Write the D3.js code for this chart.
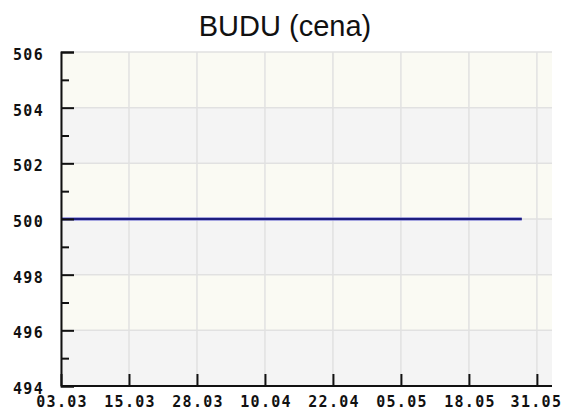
<!DOCTYPE html>
<html>
<head>
<meta charset="utf-8">
<script src="https://cdn.jsdelivr.net/npm/d3@7"></script>
<style>
  html, body { margin: 0; padding: 0; background: #fff; }
  svg { display: block; }
</style>
</head>
<body>
<svg id="chart" width="563" height="410"></svg>
<script>
const title = "BUDU (cena)";
const xTickLabels = ["03.03", "15.03", "28.03", "10.04", "22.04", "05.05", "18.05", "31.05"];
const xTickIndex = [0, 9, 18, 27, 36, 45, 54, 63];
const yMajorTicks = [494, 496, 498, 500, 502, 504, 506];
const yMinorTicks = [495, 497, 499, 501, 503, 505];
const prices = [
  500, 500, 500, 500, 500, 500, 500, 500, 500, 500,
  500, 500, 500, 500, 500, 500, 500, 500, 500, 500,
  500, 500, 500, 500, 500, 500, 500, 500, 500, 500,
  500, 500, 500, 500, 500, 500, 500, 500, 500, 500,
  500, 500, 500, 500, 500, 500, 500, 500, 500, 500,
  500, 500, 500, 500, 500, 500, 500, 500, 500, 500,
  500, 500
];

const svg = d3.select("#chart");
const L = 61, R = 552, T = 52, B = 386;

const x = d3.scaleLinear().domain([0, 65]).range([L, R]);
const y = d3.scaleLinear().domain([494, 506]).range([B, T]);

// background bands
const bands = d3.pairs(yMajorTicks);
svg.append("g").selectAll("rect").data(bands).join("rect")
  .attr("x", L).attr("width", R - L)
  .attr("y", d => y(d[1])).attr("height", d => y(d[0]) - y(d[1]))
  .attr("fill", (d, i) => i % 2 === 0 ? "#f4f4f4" : "#fafaf3");

// grid
const grid = svg.append("g").attr("stroke", "#e1e1e1").attr("stroke-width", 1.5);
grid.selectAll("line.h").data(yMajorTicks).join("line")
  .attr("x1", L).attr("x2", R).attr("y1", d => y(d)).attr("y2", d => y(d));
grid.selectAll("line.v").data(xTickIndex).join("line")
  .attr("y1", T).attr("y2", B).attr("x1", d => x(d)).attr("x2", d => x(d));

// line
const line = d3.line().x((d, i) => x(i)).y(d => y(d));
svg.append("path").datum(prices).attr("d", line)
  .attr("fill", "none").attr("stroke", "#8a8ad8").attr("stroke-width", 3.5);
svg.append("path").datum(prices).attr("d", line)
  .attr("fill", "none").attr("stroke", "#1e1e7e").attr("stroke-width", 2);

const font = "'DejaVu Sans Mono', monospace";

// y axis
const yAxis = d3.axisLeft(y).tickValues(yMajorTicks).tickFormat(d3.format("d"))
  .tickSize(-13).tickPadding(17);
const gy = svg.append("g").attr("transform", `translate(${L},0)`).call(yAxis);
const yMinor = d3.axisLeft(y).tickValues(yMinorTicks).tickFormat("").tickSize(-8);
const gym = svg.append("g").attr("transform", `translate(${L},0)`).call(yMinor);
gym.select(".domain").remove();

// x axis
const xAxis = d3.axisBottom(x).tickValues(xTickIndex)
  .tickFormat((d, i) => xTickLabels[i]).tickSize(-12).tickPadding(10);
const gx = svg.append("g").attr("transform", `translate(0,${B})`).call(xAxis);
gx.select(".domain").attr("d", `M${L},0H${R}`);

[gy, gym, gx].forEach(g => {
  g.selectAll(".domain").attr("stroke", "#111").attr("stroke-width", 2);
  g.selectAll(".tick line").attr("stroke", "#111").attr("stroke-width", 2);
  g.selectAll("text").attr("fill", "#111")
    .style("font-family", font).style("font-size", "15px").style("font-weight", "bold")
    .style("letter-spacing", "1.3px");
});
gy.selectAll("text").attr("dy", "0.5em");
gx.selectAll("text").attr("dx", (d, i) => i === xTickIndex.length - 1 ? "-1px" : "0.6px");

// title
svg.append("text").attr("x", 285).attr("y", 36).attr("text-anchor", "middle")
  .style("font-family", "'Liberation Sans', Arial, sans-serif").style("font-size", "29px")
  .attr("fill", "#111").text(title);
</script>
</body>
</html>
